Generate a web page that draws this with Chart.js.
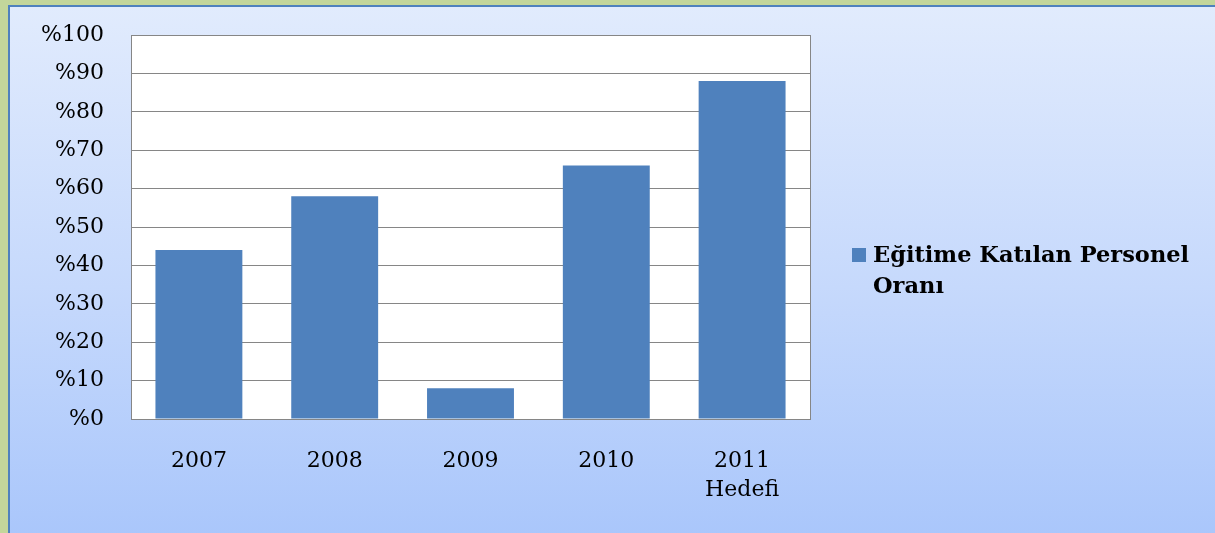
<!DOCTYPE html>
<html>
<head>
<meta charset="utf-8">
<script src="https://cdn.jsdelivr.net/npm/chart.js@4.4.0/dist/chart.umd.min.js"></script>
<style>
  html, body { margin: 0; padding: 0; width: 1215px; height: 533px; overflow: hidden; background: #c3d69b; }
  #frame {
    position: absolute; left: 8px; top: 5px; width: 1240px; height: 560px;
    border-left: 2px solid #4f81bd; border-top: 2px solid #4f81bd;
    background: linear-gradient(#e1ebfd, #c6d9fc 50%, #a6c4fb 100%);
  }
  #wrap { position: absolute; left: 0; top: 0; width: 1205px; height: 526px; }
</style>
</head>
<body>
<div id="frame"><div id="wrap"><canvas id="c"></canvas></div></div>
<script>
// ── Veri ──────────────────────────────────────────────────────────────────────
const years = [['2007'], ['2008'], ['2009'], ['2010'], ['2011', 'Hedefi']];
const oranlar = [44, 58, 8, 66, 88];
const seriesName = 'Eğitime Katılan Personel Oranı';
const legendLines = ['Eğitime Katılan Personel', 'Oranı'];

const FONT = '"DejaVu Serif", "Liberation Serif", serif';
const BAR = '#4f81bd';

// Çizim alanı: beyaz zemin + gri çerçeve, sağda lejant
const frameAndLegend = {
  id: 'frameAndLegend',
  beforeDraw(chart) {
    const { ctx, chartArea: a } = chart;
    ctx.save();
    ctx.fillStyle = '#fff';
    ctx.fillRect(a.left, a.top, a.right - a.left, a.bottom - a.top);
    ctx.restore();
  },
  beforeDatasetsDraw(chart) {
    const { ctx, chartArea: a } = chart;
    ctx.save();
    ctx.strokeStyle = '#868686';
    ctx.lineWidth = 1;
    ctx.strokeRect(a.left + 0.5, a.top + 0.5, a.right - a.left, a.bottom - a.top);
    ctx.restore();
  },
  afterDraw(chart) {
    const { ctx } = chart;
    ctx.save();
    ctx.fillStyle = BAR;
    ctx.fillRect(842, 241, 14, 14);
    ctx.fillStyle = '#000';
    ctx.font = 'bold 22.5px ' + FONT;
    ctx.textBaseline = 'middle';
    legendLines.forEach((t, i) => ctx.fillText(t, 863, 249 + i * 31));
    ctx.restore();
  }
};

new Chart(document.getElementById('c'), {
  type: 'bar',
  data: {
    labels: years,
    datasets: [{ label: seriesName, data: oranlar, backgroundColor: BAR, borderWidth: 0, barPercentage: 0.64, categoryPercentage: 1 }],
  },
  options: {
    responsive: true,
    maintainAspectRatio: false,
    animation: false,
    layout: { padding: { top: 28, right: 405, left: 0, bottom: 0 } },
    plugins: { legend: { display: false }, tooltip: { enabled: false } },
    scales: {
      x: {
        grid: { display: false, drawTicks: false },
        border: { color: '#868686' },
        ticks: { color: '#000', font: { family: FONT, size: 22, lineHeight: 1.3 }, padding: 28, maxRotation: 0 },
        afterFit: s => { s.height = 114; s.paddingLeft = 0; s.paddingRight = 0; },
      },
      y: {
        min: 0, max: 100,
        ticks: { stepSize: 10, color: '#000', font: { family: FONT, size: 22 }, padding: 27, callback: v => '%' + v },
        grid: { color: '#868686', drawTicks: false },
        border: { color: '#868686' },
        afterFit: s => { s.width = 121; s.paddingTop = 0; s.paddingBottom = 0; },
      },
    },
  },
  plugins: [frameAndLegend],
});
</script>
</body>
</html>
